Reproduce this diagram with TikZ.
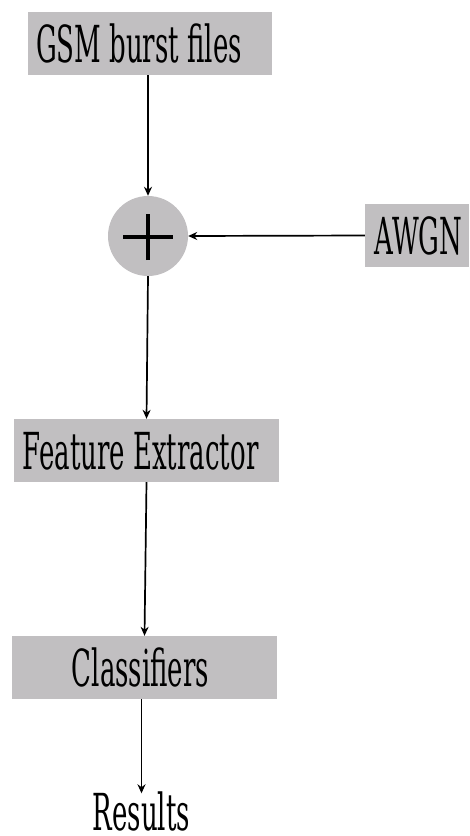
\documentclass[tikz,border=0pt]{standalone}
\usepackage{fontspec}
\setmainfont[FakeStretch=0.51]{DejaVu Serif}
\usetikzlibrary{arrows.meta}
\definecolor{boxgray}{RGB}{193,191,193}
\begin{document}
\begin{tikzpicture}[x=1pt,y=-1pt,
  box/.style={fill=boxgray,draw=none,inner sep=0pt,minimum height=63pt},
  lbl/.style={inner sep=0pt,font=\fontsize{51}{56}\selectfont,text height=37pt,text depth=0pt},
  conn/.style={line width=1.7pt,-{Stealth[length=9pt,width=8pt]}}]
\useasboundingbox (0,0) rectangle (469,836);
% boxes
\node[box,minimum width=244pt] (gsm) at (150,43.5) {};
\node[lbl] (gsmt) at (139,43.5) {GSM burst files};
\node[circle,fill=boxgray,minimum size=80pt,inner sep=0pt] (circ) at (148,236) {};
\draw[line width=4pt] ([xshift=-25pt,yshift=-1pt]circ.center) -- ([xshift=25pt,yshift=-1pt]circ.center);
\draw[line width=4pt] ([yshift=-24pt]circ.center) -- ([yshift=22pt]circ.center);
\node[box,minimum width=104pt] (awgn) at (417,235.5) {};
\node[lbl] (awgnt) at (418.5,235.5) {AWGN};
\node[box,minimum width=265pt] (feat) at (146.5,450.5) {};
\node[lbl] (featt) at (140.5,450.5) {Feature Extractor};
\node[box,minimum width=265pt] (cls) at (144.5,667.5) {};
\node[lbl] (clst) at (140.5,667.5) {Classifiers};
\node[lbl] (res) at (141.5,812) {Results};
% connectors
\draw[conn] (circ |- gsm.south) -- (circ.north);
\draw[conn] (awgn.west) -- (circ.east);
\draw[conn] (circ.south) -- (feat.north);
\draw[conn] (feat.south) -- (cls.north);
\draw[conn] (res |- cls.south) -- (res.north);
\end{tikzpicture}
\end{document}
